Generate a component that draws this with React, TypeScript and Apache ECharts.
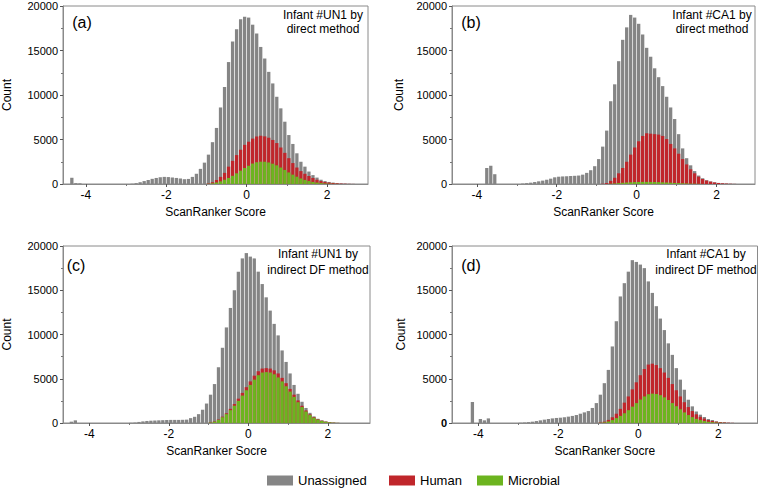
import React, { useEffect, useRef } from "react";
import * as echarts from "echarts";

// ---------- data ----------
// Bin centres of the ScanRanker score histogram (bin width 0.1)
const BINS = [
  -2.95, -2.85, -2.75, -2.65, -2.55, -2.45, -2.35, -2.25, -2.15, -2.05,
  -1.95, -1.85, -1.75, -1.65, -1.55, -1.45, -1.35, -1.25, -1.15, -1.05,
  -0.95, -0.85, -0.75, -0.65, -0.55, -0.45, -0.35, -0.25, -0.15, -0.05,
  0.05, 0.15, 0.25, 0.35, 0.45, 0.55, 0.65, 0.75, 0.85, 0.95,
  1.05, 1.15, 1.25, 1.35, 1.45, 1.55, 1.65, 1.75, 1.85, 1.95,
  2.05, 2.15, 2.25, 2.35, 2.45, 2.55, 2.65,
];

// (a) Infant #UN1, direct method
const GRAY_A = [
  0, 30, 100, 200, 330, 450, 580, 680, 760, 800,
  780, 730, 680, 620, 540, 570, 800, 1150, 1700, 2400,
  3300, 4700, 6300, 8600, 10900, 13700, 16000, 17400, 18500, 18800,
  18700, 17900, 16900, 15400, 14100, 12600, 11300, 9800, 8500, 7000,
  5500, 4500, 3450, 2500, 1950, 1400, 1000, 720, 480, 330,
  230, 160, 110, 70, 45, 25, 12,
];
const RED_A = [
  0, 0, 0, 0, 0, 0, 0, 0, 0, 0,
  0, 0, 0, 0, 0, 0, 0, 0, 0, 0,
  60, 200, 450, 800, 1250, 1950, 2600, 3250, 3850, 4400,
  4750, 5100, 5350, 5420, 5350, 5200, 4950, 4600, 4100, 3500,
  2900, 2350, 1850, 1450, 1150, 900, 680, 480, 330, 230,
  160, 110, 75, 45, 30, 15, 8,
];
const GREEN_A = [
  0, 0, 0, 0, 0, 0, 0, 0, 0, 0,
  0, 0, 0, 0, 0, 0, 0, 0, 0, 0,
  20, 80, 170, 300, 480, 680, 920, 1200, 1500, 1800,
  2050, 2300, 2450, 2510, 2500, 2420, 2280, 2100, 1850, 1580,
  1300, 1050, 820, 620, 460, 330, 230, 160, 100, 60,
  35, 20, 10, 0, 0, 0, 0,
];
const OUT_X_A = [-4.35, -4.25, -4.15];
const OUT_Y_A = [700, 100, 80];

// (b) Infant #CA1, direct method
const GRAY_B = [
  0, 50, 100, 150, 220, 300, 380, 480, 600, 750,
  820, 850, 870, 900, 920, 950, 1050, 1250, 1550, 2000,
  2800, 4200, 6000, 9300, 11200, 13800, 16200, 17600, 19000, 18700,
  18000, 16800, 15300, 14300, 13000, 12000, 11000, 9800, 8600, 7300,
  5600, 4000, 2900, 2100, 1450, 950, 650, 430, 290, 190,
  125, 80, 50, 30, 15, 0, 0,
];
const RED_B = [
  0, 0, 0, 0, 0, 0, 0, 0, 0, 0,
  0, 0, 0, 0, 0, 0, 0, 0, 0, 0,
  0, 30, 100, 350, 700, 1200, 1800, 2500, 3300, 4100,
  4800, 5400, 5700, 5650, 5600, 5550, 5400, 5050, 4500, 4000,
  3400, 2800, 2200, 1650, 1200, 820, 560, 380, 260, 170,
  110, 70, 45, 25, 10, 0, 0,
];
const GREEN_B = [
  0, 0, 0, 0, 0, 0, 0, 0, 0, 0,
  0, 0, 0, 0, 0, 0, 0, 0, 0, 0,
  0, 0, 0, 30, 60, 100, 140, 170, 200, 220,
  230, 240, 240, 235, 225, 210, 190, 170, 150, 120,
  100, 80, 60, 40, 30, 20, 10, 0, 0, 0,
  0, 0, 0, 0, 0, 0, 0,
];
const OUT_X_B = [-3.75, -3.65, -3.55];
const OUT_Y_B = [1800, 2050, 1100];

// (c) Infant #UN1, indirect DF method
const GRAY_C = [
  20, 50, 120, 180, 230, 260, 280, 300, 320, 340,
  350, 350, 350, 360, 380, 550, 700, 1000, 1500, 2200,
  3200, 4400, 6300, 8500, 10800, 13000, 15000, 17100, 18600, 19200,
  18800, 18600, 17100, 15700, 14200, 12700, 11200, 9900, 8200, 6900,
  5600, 4300, 3300, 2400, 1700, 1150, 750, 480, 300, 180,
  100, 50, 20, 0, 0, 0, 0,
];
const RED_C = [
  0, 0, 0, 0, 0, 0, 0, 0, 0, 0,
  0, 0, 0, 0, 0, 0, 0, 0, 0, 0,
  60, 180, 400, 720, 1100, 1600, 2150, 2750, 3400, 4050,
  4700, 5350, 5850, 6150, 6200, 6150, 5950, 5600, 5100, 4500,
  3850, 3200, 2550, 1950, 1420, 980, 660, 420, 260, 150,
  80, 35, 12, 0, 0, 0, 0,
];
const GREEN_C = [
  0, 0, 0, 0, 0, 0, 0, 0, 0, 0,
  0, 0, 0, 0, 0, 0, 0, 0, 0, 0,
  50, 150, 350, 650, 1000, 1450, 1950, 2500, 3100, 3700,
  4300, 4900, 5400, 5700, 5750, 5700, 5500, 5150, 4700, 4150,
  3550, 2950, 2350, 1800, 1300, 900, 600, 380, 230, 130,
  70, 30, 10, 0, 0, 0, 0,
];
const OUT_X_C = [-4.45, -4.35];
const OUT_Y_C = [150, 300];

// (d) Infant #CA1, indirect DF method
const GRAY_D = [
  30, 60, 100, 150, 220, 300, 380, 450, 520, 570,
  600, 650, 720, 800, 900, 1050, 1200, 1350, 1700, 2250,
  3200, 4500, 6000, 8650, 11500, 14300, 15800, 17100, 18400, 18200,
  17900, 17500, 16000, 14700, 13200, 11800, 10500, 9000, 7700, 6200,
  4900, 3760, 2630, 1880, 1300, 940, 680, 450, 340, 190,
  110, 75, 40, 20, 0, 0, 0,
];
const RED_D = [
  0, 0, 0, 0, 0, 0, 0, 0, 0, 0,
  0, 0, 0, 0, 0, 0, 0, 0, 0, 0,
  50, 150, 350, 650, 1050, 1600, 2300, 3000, 3800, 4600,
  5400, 6100, 6600, 6700, 6550, 6200, 5700, 5100, 4400, 3700,
  3000, 2350, 1800, 1350, 980, 700, 500, 340, 230, 150,
  90, 60, 30, 15, 0, 0, 0,
];
const GREEN_D = [
  0, 0, 0, 0, 0, 0, 0, 0, 0, 0,
  0, 0, 0, 0, 0, 0, 0, 0, 0, 0,
  20, 70, 170, 330, 550, 800, 1100, 1450, 1850, 2250,
  2650, 3000, 3250, 3320, 3280, 3150, 2900, 2600, 2250, 1900,
  1550, 1200, 900, 660, 470, 330, 220, 140, 90, 55,
  30, 15, 0, 0, 0, 0, 0,
];
const OUT_X_D = [-4.15, -3.95, -3.85, -3.75];
const OUT_Y_D = [2370, 450, 300, 520];

const SERIES_NAMES = ["Unassigned", "Human", "Microbial"];
const X_LABELS = [-4, -2, 0, 2];
const X_MINOR = [-3, -1, 1];
const Y_MAX = 20000;
const Y_STEP = 5000;

// ---------- layout / style ----------
const FONT = '"Liberation Sans", Arial, Helvetica, sans-serif';
const COLORS = ["#858585", "#c0262b", "#6cb41f"];
const FRAME = "#8a8a8a";

const PANELS = [
  {
    left: 63, top: 6, width: 305, height: 178, xMin: -4.57, xMax: 3.02,
    tag: "(a)", tagX: 82, tagY: 22,
    note1: "Infant #UN1 by", note2: "direct method", noteX: 323, noteY1: 15, noteY2: 29,
    xName: "ScanRanker Score", yNameGap: 50, boldZero: false,
    gray: GRAY_A, red: RED_A, green: GREEN_A, outX: OUT_X_A, outY: OUT_Y_A,
  },
  {
    left: 452, top: 6, width: 303, height: 178, xMin: -4.62, xMax: 2.96,
    tag: "(b)", tagX: 471, tagY: 22,
    note1: "Infant #CA1 by", note2: "direct method", noteX: 712, noteY1: 15, noteY2: 29,
    xName: "ScanRanker Score", yNameGap: 47, boldZero: false,
    gray: GRAY_B, red: RED_B, green: GREEN_B, outX: OUT_X_B, outY: OUT_Y_B,
  },
  {
    left: 58, top: 246, width: 312, height: 177, xMin: -4.66, xMax: 3.06,
    tag: "(c)", tagX: 76, tagY: 265,
    note1: "Infant #UN1 by", note2: "indirect DF method", noteX: 318, noteY1: 254, noteY2: 270,
    xName: "ScanRanker Socre", yNameGap: 50, boldZero: false,
    gray: GRAY_C, red: RED_C, green: GREEN_C, outX: OUT_X_C, outY: OUT_Y_C,
  },
  {
    left: 452, top: 246, width: 305.5, height: 177, xMin: -4.66, xMax: 2.98,
    tag: "(d)", tagX: 471, tagY: 265,
    note1: "Infant #CA1 by", note2: "indirect DF method", noteX: 706, noteY1: 254, noteY2: 270,
    xName: "ScanRanker Socre", yNameGap: 45, boldZero: true,
    gray: GRAY_D, red: RED_D, green: GREEN_D, outX: OUT_X_D, outY: OUT_Y_D,
  },
];

const LEGEND_POS = [267, 389, 477];

function pairs(xs: number[], ys: number[]): number[][] {
  return xs.map((x, i) => [x, ys[i]]).filter((p) => p[1] > 0);
}

function buildOption() {
  const grid: any[] = [];
  const xAxis: any[] = [];
  const yAxis: any[] = [];
  const series: any[] = [];
  const graphic: any[] = [];

  PANELS.forEach((p, i) => {
    grid.push({
      left: p.left, top: p.top, width: p.width, height: p.height,
      show: true, borderColor: FRAME, borderWidth: 1,
    });
    xAxis.push({
      type: "value", gridIndex: i, min: p.xMin, max: p.xMax,
      axisLine: { show: true, onZero: false, lineStyle: { color: FRAME, width: 1 } },
      axisTick: { show: true, customValues: X_LABELS, length: 3, lineStyle: { color: "#555" } },
      axisLabel: {
        customValues: X_LABELS, fontSize: 12, color: "#000", margin: 5, fontFamily: FONT,
        formatter: (v: number) => String(v),
      },
      splitLine: { show: false },
      name: p.xName, nameLocation: "middle", nameGap: 22,
      nameTextStyle: { fontSize: 12, color: "#000", fontFamily: FONT },
    });
    xAxis.push({
      type: "value", gridIndex: i, min: p.xMin, max: p.xMax, position: "bottom",
      axisLine: { show: false, onZero: false },
      axisTick: { show: true, customValues: X_MINOR, length: 2, lineStyle: { color: "#777" } },
      axisLabel: { show: false },
      splitLine: { show: false },
    });
    yAxis.push({
      type: "value", gridIndex: i, min: 0, max: Y_MAX, interval: Y_STEP, position: "left",
      axisLine: { show: true, onZero: false, lineStyle: { color: FRAME, width: 1 } },
      axisTick: { show: true, length: 3, lineStyle: { color: "#555" } },
      minorTick: { show: true, splitNumber: 2, length: 2, lineStyle: { color: "#777" } },
      splitLine: { show: false },
      minorSplitLine: { show: false },
      axisLabel: {
        fontSize: 11, color: "#000", margin: 5, fontFamily: FONT,
        formatter: p.boldZero
          ? (v: number) => (v === 0 ? "{b|0}" : String(v))
          : (v: number) => String(v),
        rich: { b: { fontWeight: "bold", fontSize: 11, color: "#000", fontFamily: FONT } },
      },
      name: "Count", nameLocation: "middle", nameGap: p.yNameGap,
      nameTextStyle: { fontSize: 12, color: "#000", fontFamily: FONT },
    });

    const layers = [
      pairs(p.outX, p.outY).concat(pairs(BINS, p.gray)),
      pairs(BINS, p.red),
      pairs(BINS, p.green),
    ];
    layers.forEach((data, k) => {
      series.push({
        type: "bar", name: SERIES_NAMES[k],
        xAxisIndex: 2 * i, yAxisIndex: i,
        data, barWidth: 3.3, barGap: "-100%",
        itemStyle: { color: COLORS[k] },
        silent: true,
      });
    });

    graphic.push({
      type: "text", x: p.tagX, y: p.tagY,
      style: { text: p.tag, fontSize: 16, fontFamily: FONT, fill: "#000", align: "center", verticalAlign: "middle" },
    });
    graphic.push({
      type: "text", x: p.noteX, y: p.noteY1,
      style: { text: p.note1, fontSize: 12, fontFamily: FONT, fill: "#000", align: "center", verticalAlign: "middle" },
    });
    graphic.push({
      type: "text", x: p.noteX, y: p.noteY2,
      style: { text: p.note2, fontSize: 12, fontFamily: FONT, fill: "#000", align: "center", verticalAlign: "middle" },
    });
  });

  const legend = SERIES_NAMES.map((name, k) => ({
    data: [name], left: LEGEND_POS[k], top: 474,
    itemWidth: 26, itemHeight: 10, itemGap: 0, icon: "rect",
    selectedMode: false, padding: 0,
    textStyle: { fontSize: 13, color: "#000", fontFamily: FONT },
  }));

  return {
    animation: false,
    backgroundColor: "#ffffff",
    textStyle: { fontFamily: FONT },
    grid, xAxis, yAxis, series, graphic, legend,
  };
}

export default function App() {
  const ref = useRef<HTMLDivElement>(null);
  useEffect(() => {
    if (!ref.current) return;
    const chart = echarts.init(ref.current, undefined, { renderer: "svg" });
    chart.setOption(buildOption() as any);
    return () => chart.dispose();
  }, []);
  return (
    <div
      ref={ref}
      style={{ position: "absolute", left: 0, top: 0, width: 759, height: 489, background: "#fff" }}
    />
  );
}
